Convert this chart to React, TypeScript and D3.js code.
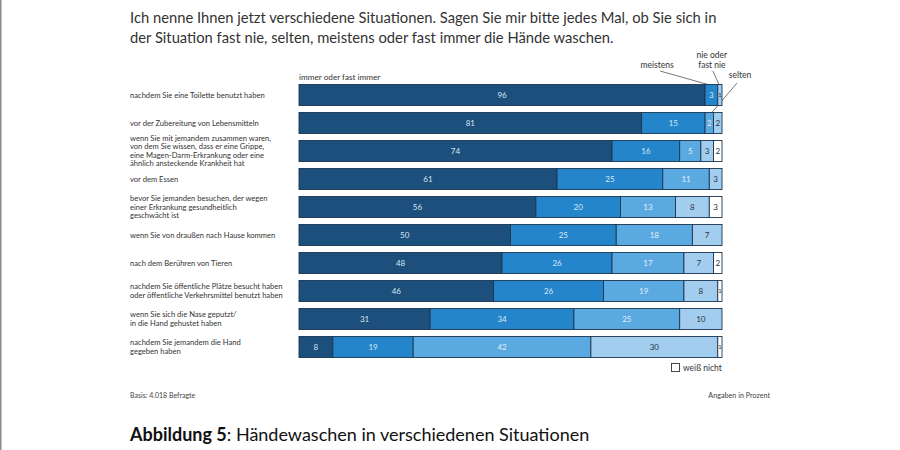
import React from "react";
import * as d3 from "d3";

const titleLines = [
  "Ich nenne Ihnen jetzt verschiedene Situationen. Sagen Sie mir bitte jedes Mal, ob Sie sich in",
  "der Situation fast nie, selten, meistens oder fast immer die Hände waschen.",
];

const categories: string[][] = [
  ["nachdem Sie eine Toilette benutzt haben"],
  ["vor der Zubereitung von Lebensmitteln"],
  [
    "wenn Sie mit jemandem zusammen waren,",
    "von dem Sie wissen, dass er eine Grippe,",
    "eine Magen-Darm-Erkrankung oder eine",
    "ähnlich ansteckende Krankheit hat",
  ],
  ["vor dem Essen"],
  ["bevor Sie jemanden besuchen, der wegen", "einer Erkrankung gesundheitlich", "geschwächt ist"],
  ["wenn Sie von draußen nach Hause kommen"],
  ["nach dem Berühren von Tieren"],
  ["nachdem Sie öffentliche Plätze besucht haben", "oder öffentliche Verkehrsmittel benutzt haben"],
  ["wenn Sie sich die Nase geputzt/", "in die Hand gehustet haben"],
  ["nachdem Sie jemandem die Hand", "gegeben haben"],
];

const seriesNames = ["immer oder fast immer", "meistens", "selten", "nie oder fast nie", "weiß nicht"];
const immer = [96, 81, 74, 61, 56, 50, 48, 46, 31, 8];
const meistens = [3, 15, 16, 25, 20, 25, 26, 26, 34, 19];
const selten = [0, 2, 5, 11, 13, 18, 17, 19, 25, 42];
const nie = [1, 2, 3, 3, 8, 7, 7, 8, 10, 30];
const weissNicht = [0, 0, 2, 0, 3, 0, 2, 1, 0, 1];

const colors = ["#1c4f7c", "#2585cb", "#5aaae1", "#a3cdef", "#ffffff"];
const textColors = ["#d6e6f4", "#d6e6f4", "#e3eef8", "#2a3440", "#2a3440"];

const FONT = "Lato, 'Open Sans', sans-serif";

export default function App() {
  const series = [immer, meistens, selten, nie, weissNicht];
  const ids = categories.map((_, i) => String(i));
  const x = d3.scaleLinear().domain([0, 100]).range([299, 722]);
  const y = d3.scaleBand().domain(ids).range([81, 361]).paddingInner(0.25).paddingOuter(0.125);
  const bw = y.bandwidth();

  const rows = categories.map((_, i) => {
    let acc = 0;
    return series.map((s, k) => {
      const v = s[i];
      const seg = { k, v, x0: acc, x1: acc + v };
      acc += v;
      return seg;
    });
  });

  const y0 = y("0")!;
  const y1 = y("1")!;

  return (
    <svg width={900} height={450} style={{ position: "absolute", left: 0, top: 0, background: "#fff" }}>
      <rect x={0} y={0} width={900} height={450} fill="#fff" />
      <rect x={0} y={0} width={1.5} height={450} fill="#8a8a8a" />
      {titleLines.map((t, i) => (
        <text key={i} x={130} y={23 + i * 19.5} fontFamily={FONT} fontSize={14.75} fill="#333">
          {t}
        </text>
      ))}

      <text x={x(0)} y={80} fontFamily={FONT} fontSize={8.2} fill="#333">
        {seriesNames[0]}
      </text>
      <text x={x(96) - 48} y={68} fontFamily={FONT} fontSize={8.5} fill="#333" textAnchor="middle">
        {seriesNames[1]}
      </text>
      <text x={x(99.5) - 8} y={58} fontFamily={FONT} fontSize={8.5} fill="#333" textAnchor="middle">
        nie oder
      </text>
      <text x={x(99.5) - 8} y={67.5} fontFamily={FONT} fontSize={8.5} fill="#333" textAnchor="middle">
        fast nie
      </text>
      <text x={x(100) + 18} y={78} fontFamily={FONT} fontSize={8.5} fill="#333" textAnchor="middle">
        {seriesNames[2]}
      </text>
      <line x1={x(96) - 45} y1={71} x2={x(97.5)} y2={y0 + 1} stroke="#555" strokeWidth={0.8} />
      <line x1={x(99.5) - 7} y1={71} x2={x(99.5)} y2={y0 + 2} stroke="#555" strokeWidth={0.8} />
      <line x1={x(100) + 15} y1={83} x2={x(97)} y2={y1 + 3} stroke="#555" strokeWidth={0.8} />

      {categories.map((lines, i) => {
        const cy = y(String(i))! + bw / 2;
        const lh = 8.4;
        const start = cy - ((lines.length - 1) * lh) / 2;
        return (
          <g key={i}>
            {lines.map((l, j) => (
              <text
                key={j}
                x={130}
                y={start + j * lh}
                dy="0.35em"
                fontFamily={FONT}
                fontSize={7.6}
                fill="#333"
              >
                {l}
              </text>
            ))}
          </g>
        );
      })}

      {rows.map((segs, i) => {
        const top = y(String(i))!;
        return (
          <g key={i}>
            {segs
              .filter((s) => s.v > 0)
              .map((s) => (
                <g key={s.k}>
                  <rect
                    x={x(s.x0)}
                    y={top}
                    width={x(s.x1) - x(s.x0)}
                    height={bw}
                    fill={colors[s.k]}
                    stroke="#1a3550"
                    strokeWidth={0.9}
                  />
                  <text
                    x={(x(s.x0) + x(s.x1)) / 2}
                    y={top + bw / 2}
                    dy="0.35em"
                    textAnchor="middle"
                    fontFamily={FONT}
                    fontSize={s.v < 2 ? 6.5 : 8}
                    fill={textColors[s.k]}
                  >
                    {s.v}
                  </text>
                </g>
              ))}
          </g>
        );
      })}

      <rect x={671.5} y={363.5} width={8} height={8} fill="#fff" stroke="#333" strokeWidth={0.9} />
      <text x={683} y={371} fontFamily={FONT} fontSize={8.5} fill="#333">
        {seriesNames[4]}
      </text>

      <text x={130} y={398} fontFamily={FONT} fontSize={7} fill="#444">
        Basis: 4.018 Befragte
      </text>
      <text x={770} y={398} fontFamily={FONT} fontSize={7.2} fill="#444" textAnchor="end">
        Angaben in Prozent
      </text>

      <text x={130} y={441} fontFamily={FONT} fontSize={18} fill="#111">
        <tspan fontWeight="bold">Abbildung 5</tspan>
        <tspan>: Händewaschen in verschiedenen Situationen</tspan>
      </text>
    </svg>
  );
}
